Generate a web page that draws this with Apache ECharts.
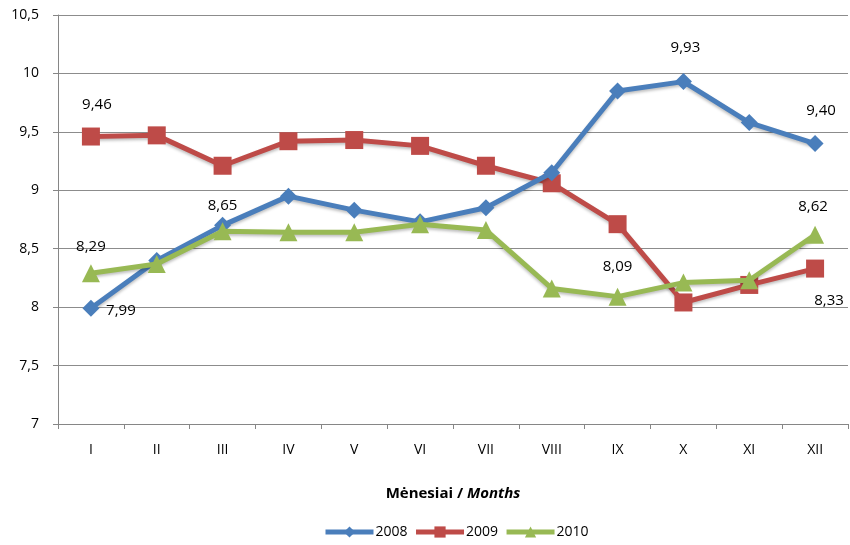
<!DOCTYPE html>
<html>
<head>
<meta charset="utf-8">
<script src="https://cdn.jsdelivr.net/npm/echarts@6/dist/echarts.min.js"></script>
<style>
  html, body { margin: 0; padding: 0; background: #fff; }
  #chart { width: 850px; height: 545px; }
</style>
</head>
<body>
<div id="chart"></div>
<script>
// mėnesiai
var months = ["I", "II", "III", "IV", "V", "VI", "VII", "VIII", "IX", "X", "XI", "XII"];
var y2008 = [7.99, 8.40, 8.70, 8.95, 8.83, 8.73, 8.85, 9.15, 9.85, 9.93, 9.58, 9.40];
var y2009 = [9.46, 9.47, 9.21, 9.42, 9.43, 9.38, 9.21, 9.06, 8.71, 8.04, 8.19, 8.33];
var y2010 = [8.29, 8.37, 8.65, 8.64, 8.64, 8.71, 8.66, 8.16, 8.09, 8.21, 8.23, 8.62];
var yTicks = [7, 7.5, 8, 8.5, 9, 9.5, 10, 10.5];

var fontFam = "'Open Sans', 'Liberation Sans', sans-serif";

function fmt(v) {
  return v.toFixed(2).replace(".", ",");
}

// su kuriais taškais rodom reikšmes: index -> [offsetX, offsetY]
function build(values, labelled) {
  return values.map(function (v, i) {
    var item = { value: v };
    if (labelled[i]) {
      item.label = {
        show: true,
        position: "inside",
        offset: labelled[i],
        formatter: function (p) { return fmt(p.value); }
      };
    }
    return item;
  });
}

var chart = echarts.init(document.getElementById("chart"));

var option = {
  animation: false,
  textStyle: { fontFamily: fontFam },
  grid: { left: 58, right: 2, top: 15, bottom: 121 },
  legend: {
    bottom: 1,
    left: 318,
    itemWidth: 48,
    itemHeight: 14,
    itemGap: 6,
    lineStyle: { width: 5 },
    textStyle: { fontSize: 14, color: "#000", fontFamily: fontFam, padding: [0, 0, 0, -3] },
    data: ["2008", "2009", "2010"]
  },
  xAxis: {
    type: "category",
    data: months,
    boundaryGap: true,
    axisLine: { lineStyle: { color: "#868686", width: 1 } },
    axisTick: { show: true, length: 5, lineStyle: { color: "#868686" } },
    axisLabel: { color: "#000", fontSize: 14, margin: 19 },
    name: "{b|Mėnesiai / }{i|Months}",
    nameLocation: "middle",
    nameGap: 62,
    nameTextStyle: {
      rich: {
        b: { fontWeight: "bold", fontSize: 15, color: "#000", fontFamily: fontFam },
        i: { fontWeight: "bold", fontStyle: "italic", fontSize: 15, color: "#000", fontFamily: fontFam }
      }
    }
  },
  yAxis: {
    type: "value",
    min: yTicks[0],
    max: yTicks[yTicks.length - 1],
    interval: 0.5,
    axisLine: { show: true, lineStyle: { color: "#868686" } },
    axisTick: { show: true, length: 5, inside: false, lineStyle: { color: "#868686" } },
    axisLabel: {
      color: "#000",
      fontSize: 14,
      margin: 19,
      formatter: function (v) { return String(v).replace(".", ","); }
    },
    splitLine: { lineStyle: { color: "#8c8c8c", width: 1 } }
  },
  series: [
    {
      name: "2008",
      type: "line",
      data: build(y2008, { 0: [30, 2], 9: [2, -34], 11: [6, -33] }),
      symbol: "diamond",
      symbolSize: 17,
      color: "#4A7EBB",
      lineStyle: { width: 5, color: "#4A7EBB", shadowColor: "rgba(0,0,0,0.25)", shadowBlur: 3, shadowOffsetY: 2 },
      itemStyle: { color: "#4A7EBB" },
      label: { color: "#000", fontSize: 15 },
      z: 3
    },
    {
      name: "2009",
      type: "line",
      data: build(y2009, { 0: [6, -32], 11: [14, 32] }),
      symbol: "rect",
      symbolSize: 18,
      color: "#BE4B48",
      lineStyle: { width: 5, color: "#BE4B48", shadowColor: "rgba(0,0,0,0.25)", shadowBlur: 3, shadowOffsetY: 2 },
      itemStyle: { color: "#BE4B48" },
      label: { color: "#000", fontSize: 15 },
      z: 2
    },
    {
      name: "2010",
      type: "line",
      data: build(y2010, { 0: [0, -27], 2: [0, -25], 8: [0, -30], 11: [-2, -28] }),
      symbol: "triangle",
      symbolSize: 18,
      color: "#98B954",
      lineStyle: { width: 5, color: "#98B954", shadowColor: "rgba(0,0,0,0.25)", shadowBlur: 3, shadowOffsetY: 2 },
      itemStyle: { color: "#98B954" },
      label: { color: "#000", fontSize: 15 },
      z: 4
    }
  ]
};

chart.setOption(option);
</script>
</body>
</html>
